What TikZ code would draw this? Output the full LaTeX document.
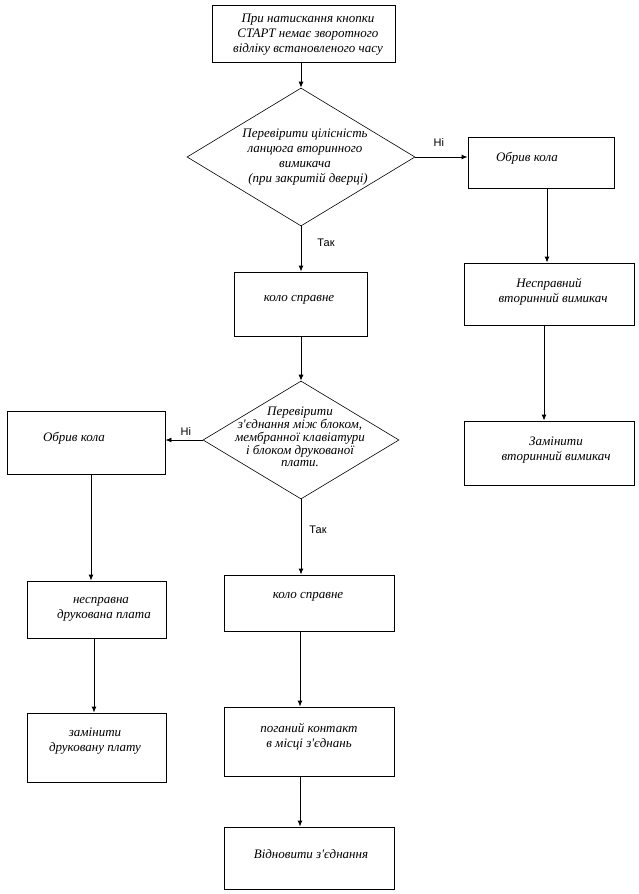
\documentclass[tikz,border=0pt]{standalone}
\usepackage{fontspec}
\setmainfont{Liberation Serif}
\newfontfamily\lblfont{Liberation Sans}
\usetikzlibrary{arrows.meta,shapes.geometric}
\newcommand{\apos}{\textquotesingle}
\begin{document}
\begin{tikzpicture}[x=1pt,y=-1pt,
  box/.style={draw,line width=0.9pt,inner sep=0pt,rectangle},
  dia/.style={draw,line width=0.6pt,inner sep=0pt,diamond},
  txt/.style={inner sep=0pt,align=center,font=\fontsize{13}{15}\selectfont\itshape},
  lbl/.style={inner sep=0pt,font=\fontsize{11}{12}\selectfont\lblfont},
  arr/.style={line width=0.9pt,-{Latex[length=6pt,width=5pt]}}]
\useasboundingbox (0,0) rectangle (639,894);
\fill[white] (0,0) rectangle (639,894);
% boxes
\node[box,minimum width=183pt,minimum height=57pt] (top) at (303.5,33.5) {};
\node[dia,minimum width=228pt,minimum height=138pt] (d1) at (301,157) {};
\node[box,minimum width=146pt,minimum height=51pt] (rb1) at (541,162.5) {};
\node[box,minimum width=170pt,minimum height=62pt] (rb2) at (549,294) {};
\node[box,minimum width=170pt,minimum height=64pt] (rb3) at (549,453) {};
\node[box,minimum width=133pt,minimum height=64pt] (k1) at (300.5,304) {};
\node[dia,minimum width=196pt,minimum height=118pt] (d2) at (301,440) {};
\node[box,minimum width=158pt,minimum height=63pt] (lb1) at (86,442.5) {};
\node[box,minimum width=139pt,minimum height=57pt] (lb2) at (96.5,609.5) {};
\node[box,minimum width=139pt,minimum height=69pt] (lb3) at (96.5,747.5) {};
\node[box,minimum width=170pt,minimum height=56pt] (k2) at (309,603) {};
\node[box,minimum width=170pt,minimum height=69pt] (pk) at (309,741.5) {};
\node[box,minimum width=170pt,minimum height=62pt] (vz) at (309,858) {};
% texts
\node[txt] (ttop) at (308,35) {При натискання кнопки\\СТАРТ немає зворотного\\відліку встановленого часу};
\node[txt] (td1) at (305,157) {Перевірити цілісність\\ланцюга вторинного\\вимикача\\\hspace*{6pt}(при закритій дверці)};
\node[txt] (trb1) at (527,158) {Обрив кола};
\node[txt] (trb2) at (549,292) {Несправний\\\hspace*{8pt}вторинний вимикач};
\node[txt] (trb3) at (556,450) {Замінити\\вторинний вимикач};
\node[txt] (tk1) at (299,300) {коло справне};
\node[txt,font=\fontsize{13}{12.8}\selectfont\itshape] (td2) at (300,437) {Перевірити\\з\apos єднання між блоком,\\мембранної клавіатури\\і блоком друкованої\\плати.};
\node[txt] (tlb1) at (74,438) {Обрив кола};
\node[txt] (tlb2) at (101,609.5) {несправна\\\hspace*{6pt}друкована плата};
\node[txt] (tlb3) at (95,741.5) {замінити\\друковану плату};
\node[txt] (tk2) at (308,597) {коло справне};
\node[txt] (tpk) at (309,736.5) {поганий контакт\\в місці з\apos єднань};
\node[txt] (tvz) at (311,854) {Відновити з\apos єднання};
% connectors
\draw[arr] (top.south -| d1.north) -- (d1.north);
\draw[arr] (d1.east) -- (d1.east -| rb1.west) node[lbl,pos=0.45,above=10pt] (l1) {Ні};
\draw[arr] ([xshift=6pt]rb1.south) -- ([xshift=6pt]rb1.south |- rb2.north);
\draw[arr] ([xshift=-5pt]rb2.south) -- ([xshift=-5pt]rb2.south |- rb3.north);
\draw[arr] (d1.south) -- (d1.south |- k1.north) node[lbl,pos=0.37,right=16pt] (l2) {Так};
\draw[arr] (k1.south -| d2.north) -- (d2.north);
\draw[arr] (d2.west) -- (d2.west -| lb1.east) node[lbl,pos=0.45,above=4pt] (l3) {Ні};
\draw[arr] ([xshift=5pt]lb1.south) -- ([xshift=5pt]lb1.south |- lb2.north);
\draw[arr] ([xshift=-2.5pt]lb2.south) -- ([xshift=-2.5pt]lb2.south |- lb3.north);
\draw[arr] (d2.south) -- (d2.south |- k2.north) node[lbl,pos=0.4,right=8pt] (l4) {Так};
\draw[arr] ([xshift=-9pt]k2.south) -- ([xshift=-9pt]pk.north);
\draw[arr] ([xshift=-9pt]pk.south) -- ([xshift=-9pt]vz.north);
\end{tikzpicture}
\end{document}
